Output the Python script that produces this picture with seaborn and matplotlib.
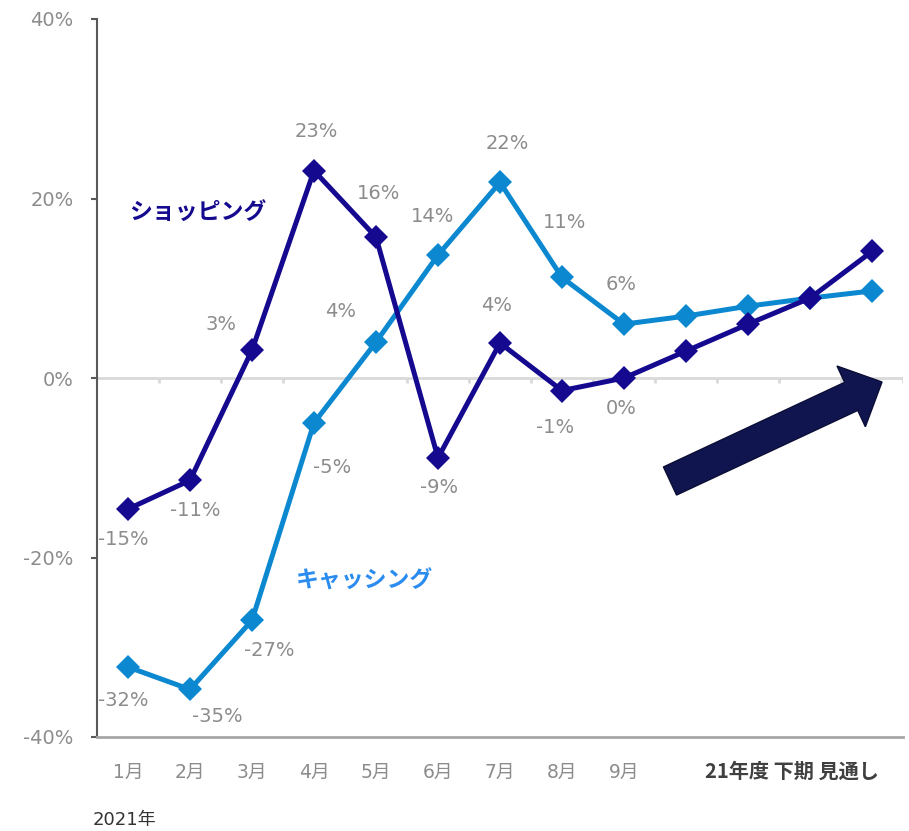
import numpy as np
import pandas as pd
import matplotlib
matplotlib.use("Agg")
import matplotlib.pyplot as plt
from matplotlib.patches import Polygon
import seaborn as sns

# ---- data ----
categories = ["1月", "2月", "3月", "4月", "5月", "6月", "7月", "8月", "9月",
              "下期1", "下期2", "下期3", "下期4"]
tick_labels = ["1月", "2月", "3月", "4月", "5月", "6月", "7月", "8月", "9月", "", "", "", ""]
shopping = [-14.6, -11.4, 3.1, 23.1, 15.7, -8.9, 3.9, -1.4, 0.0, 3.0, 6.0, 8.9, 14.1]
cashing = [-32.2, -34.7, -27.0, -5.0, 4.0, 13.7, 21.8, 11.2, 6.0, 6.9, 8.0, 8.9, 9.7]
n_labeled = 9
shop_offsets = [(-5, -30), (5, -30), (-31, 26), (2, 39), (3, 44), (1, -30), (-3, 37), (-7, -37), (-3, -31)]
cash_offsets = [(-5, -34), (27, -27), (17, -30), (18, -45), (-35, 31), (-5, 39), (7, 39), (3, 55), (-3, 40)]
yticks = [-40, -20, 0, 20, 40]

sns.set_theme(style="white")
plt.rcParams['font.family'] = ['DejaVu Sans', 'Noto Sans CJK JP']

SHOP_C = "#14098f"
CASH_C = "#0b88cf"
GRAY = "#8c8c8c"

fig = plt.figure(figsize=(9.09, 8.31), dpi=100)
ax = fig.add_axes([97 / 909, 1 - 737 / 831, (903 - 97) / 909, (737 - 19) / 831])

x = np.arange(len(categories))
df = pd.DataFrame({"x": np.concatenate([x, x]),
                   "v": shopping + cashing,
                   "s": ["ショッピング"] * len(x) + ["キャッシング"] * len(x)})

# zero line with small ticks
ax.axhline(0, color="#d9d9d9", lw=2, zorder=1)
ax.vlines(x + 0.5, -0.6, 0, color="#d9d9d9", lw=2, zorder=1)

sns.lineplot(data=df, x="x", y="v", hue="s", palette={"ショッピング": SHOP_C, "キャッシング": CASH_C},
             hue_order=["キャッシング", "ショッピング"],
             marker="D", markersize=12.5, markeredgewidth=0, lw=3.6, legend=False, ax=ax, zorder=3)

for vals, offs, col in [(shopping, shop_offsets, SHOP_C), (cashing, cash_offsets, CASH_C)]:
    for i in range(n_labeled):
        ax.annotate(f"{round(vals[i]):.0f}%", (x[i], vals[i]), xytext=offs[i],
                    textcoords="offset pixels", ha="center", va="center",
                    fontsize=14, color=GRAY, zorder=4)

ax.set_xlim(-0.5, len(categories) - 0.5)
ax.set_ylim(-40, 40)
ax.set_yticks(yticks)
ax.set_yticklabels([f"{t}%" for t in yticks], fontsize=14, color=GRAY)
ax.set_xticks(x)
ax.set_xticklabels(tick_labels, fontsize=13.5, color=GRAY)
ax.tick_params(axis="y", length=4, width=1.5, color="#595959", pad=13, left=True)
ax.tick_params(axis="x", length=0, pad=19)
ax.set_xlabel("")
ax.set_ylabel("")

for s in ["top", "right"]:
    ax.spines[s].set_visible(False)
ax.spines["left"].set_color("#595959")
ax.spines["left"].set_linewidth(1.5)
ax.spines["bottom"].set_color("#a6a6a6")
ax.spines["bottom"].set_linewidth(2)

# series labels
ax.text(1.13, 18.3, "ショッピング", fontsize=16.5, fontweight="bold", color=SHOP_C,
        ha="center", va="center", family=['Noto Sans CJK JP'])
ax.text(3.81, -22.6, "キャッシング", fontsize=16.5, fontweight="bold", color="#2b8cf0",
        ha="center", va="center", family=['Noto Sans CJK JP'])

# forecast period label
fig.text(792 / 909, 1 - 771 / 831, "21年度 下期 見通し", fontsize=14.5, fontweight="bold",
         color="#404040", ha="center", va="center", family=['Noto Sans CJK JP'])
fig.text(93 / 909, 1 - 820 / 831, "2021年", fontsize=13, color="#333333",
         ha="left", va="center")

# decorative arrow (in figure pixels -> inches)
T = np.array([670.0, 481.0]); P = np.array([882.0, 382.0])
u = (P - T) / np.linalg.norm(P - T)
nrm = np.array([-u[1], u[0]])
L, w, h = 34.0, 15.5, 33.5
B = P - L * u
pts = [T + w * nrm, B + w * nrm, B + h * nrm, P, B - h * nrm, B - w * nrm, T - w * nrm]
pts_in = [((p[0]) / 100, (831 - p[1]) / 100) for p in pts]
fig.patches.append(Polygon(pts_in, closed=True, facecolor="#10154f", edgecolor="#0a0d35",
                           lw=1, transform=fig.dpi_scale_trans, zorder=5))

fig.savefig("out.png", dpi=100)
